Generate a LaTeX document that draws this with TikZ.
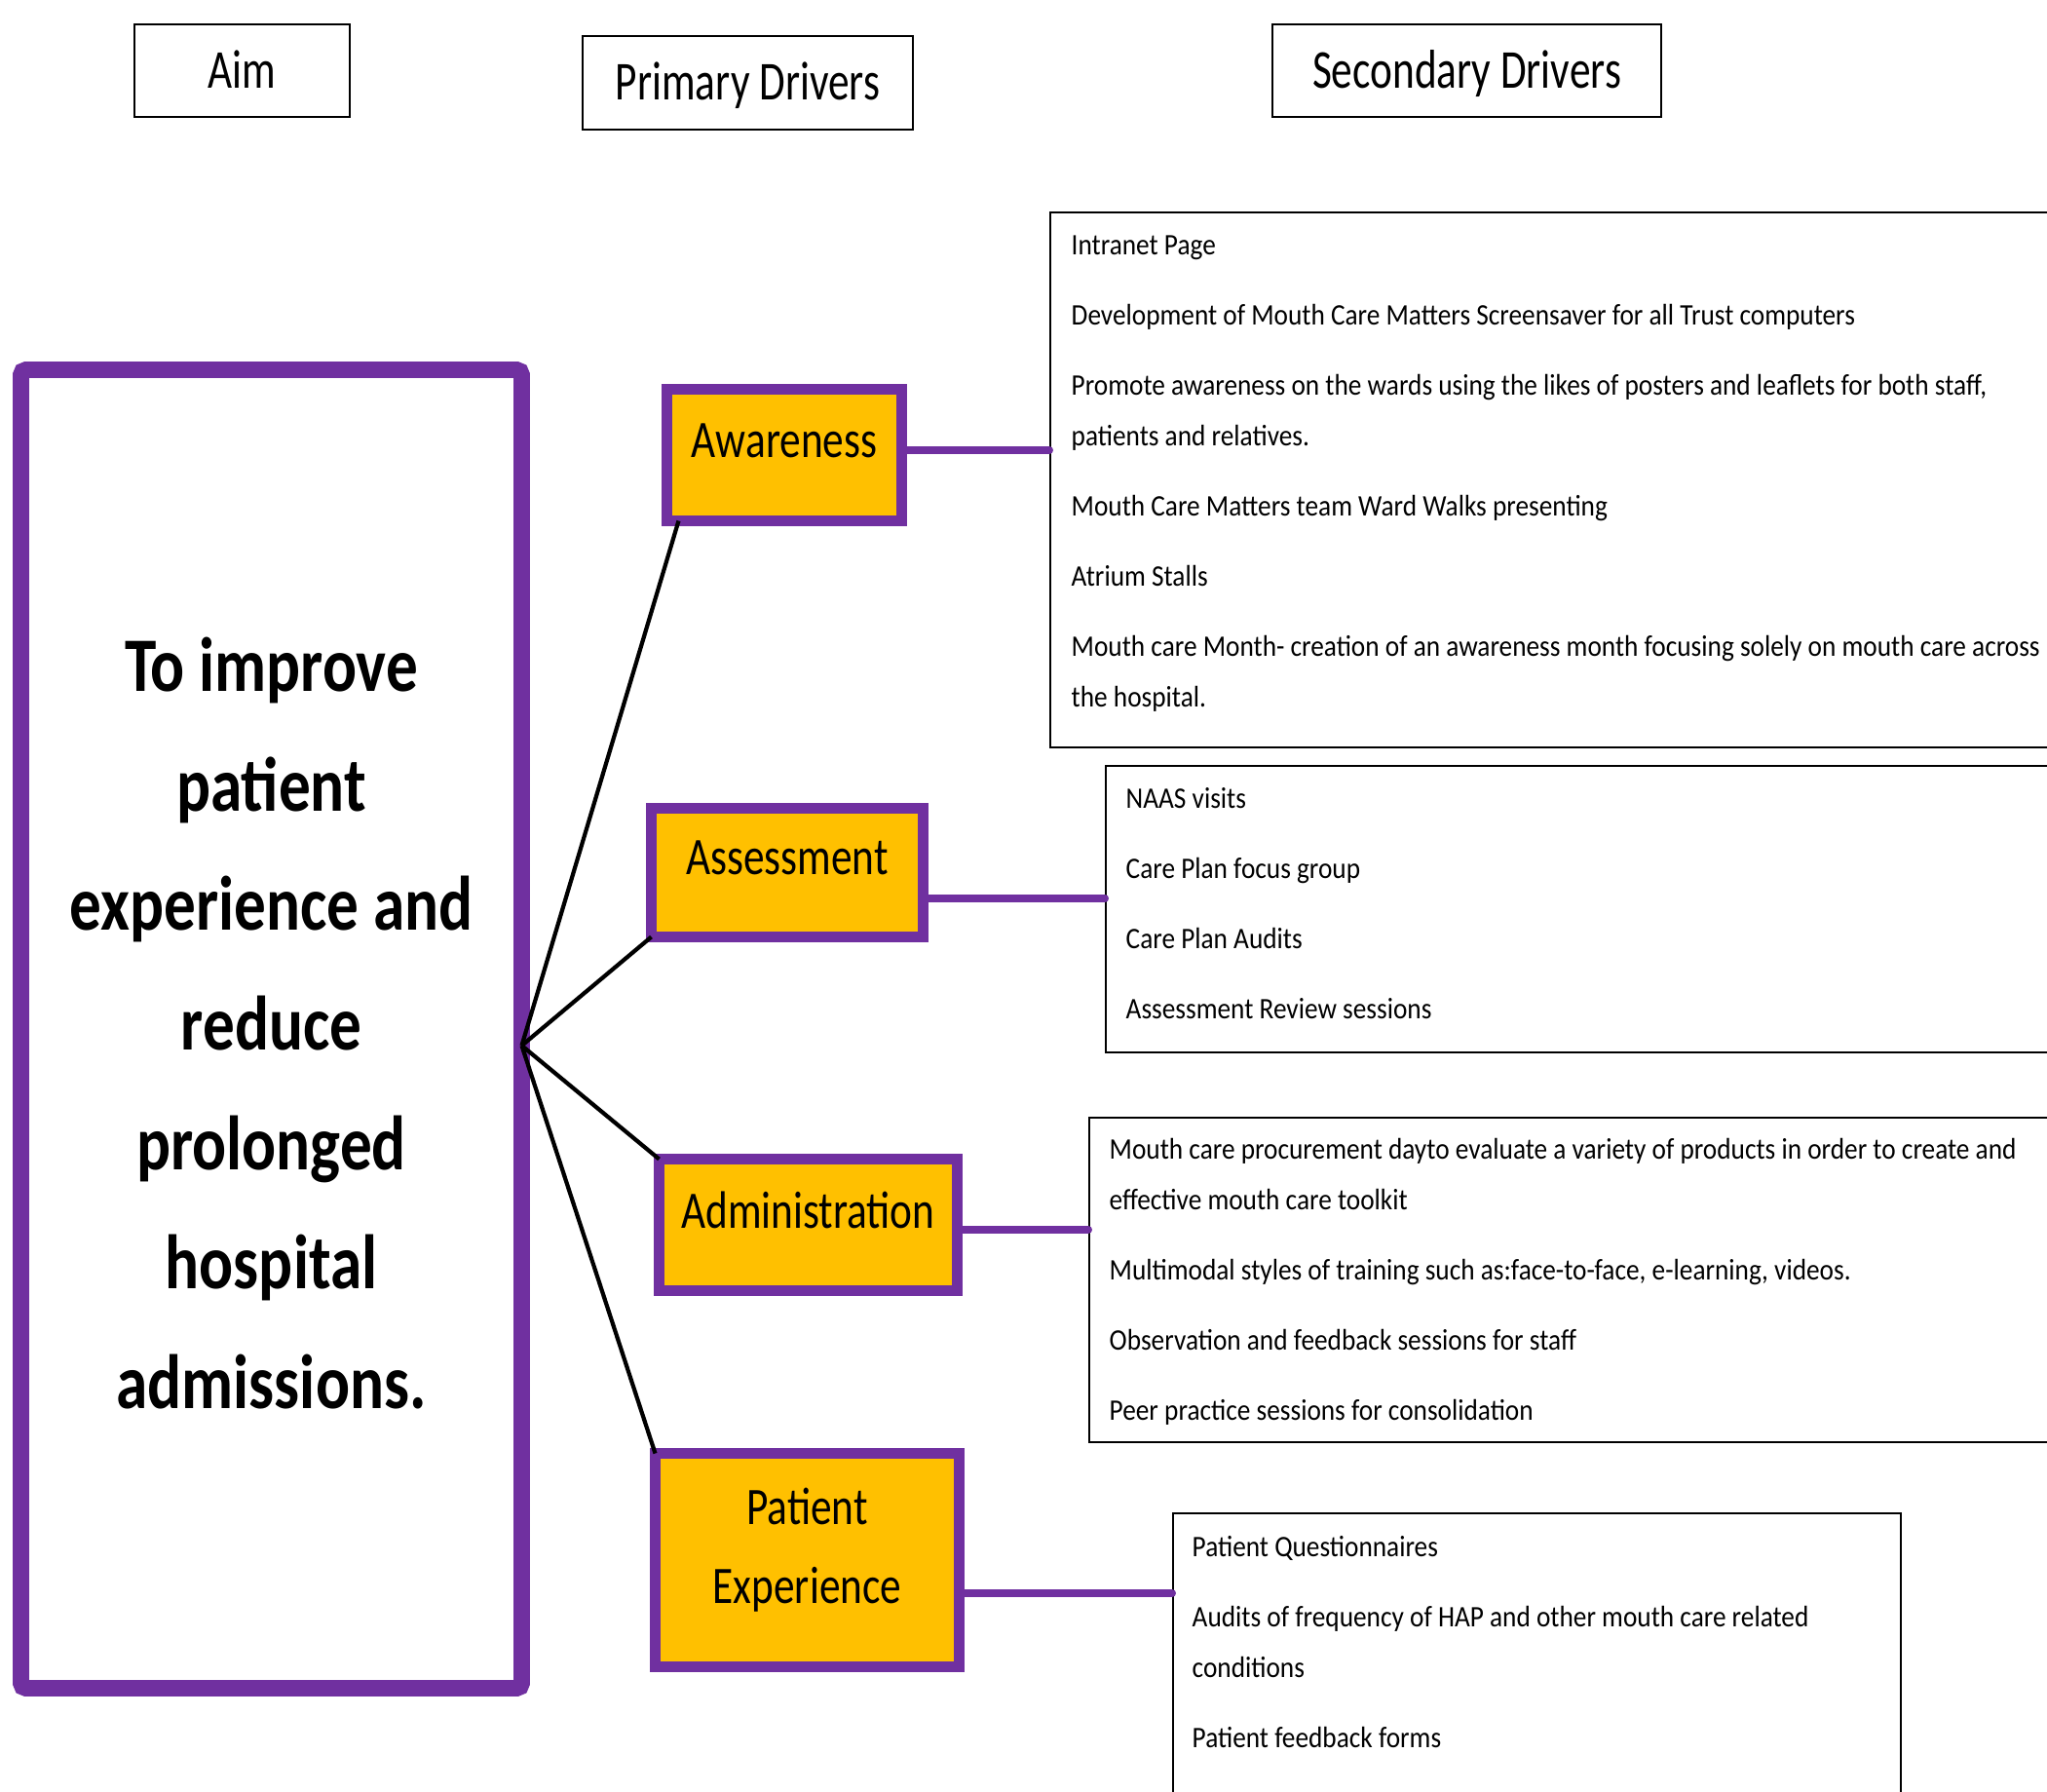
\documentclass[tikz,border=0pt]{standalone}
\usepackage{fontspec}
\setmainfont{Carlito}[FakeStretch=0.8]
\newfontfamily\headfont{Carlito}[FakeStretch=0.77]
\newfontfamily\aimfont{Carlito}[FakeStretch=0.825]
\newfontfamily\bodyfont{Carlito}[FakeStretch=0.893]
\usetikzlibrary{positioning,calc}
\definecolor{drvpurple}{RGB}{112,48,160}
\definecolor{drvorange}{RGB}{255,192,0}
\tikzset{
  head/.style={draw,line width=0.8pt,text depth=1pt,font=\headfont\fontsize{16}{19}\selectfont},
  aimbox/.style={draw=drvpurple,line width=4.8pt,outer sep=0pt,align=center,
    rounded corners=1.5pt,text depth=3.5pt,font=\aimfont\bfseries\fontsize{22.5}{34.9}\selectfont},
  driver/.style={draw=drvpurple,fill=drvorange,line width=3.1pt,outer sep=0pt,
    align=center,text depth=8.5pt,font=\fontsize{15.4}{23}\selectfont},
  secbox/.style={draw,line width=0.7pt,anchor=north west},
  sectext/.style={anchor=north west,inner sep=0pt,align=left,
    font=\bodyfont\fontsize{8.7}{14.8}\selectfont},
  link/.style={drvpurple,line width=2.3pt,line cap=round},
  spoke/.style={line width=1.2pt},
}

\begin{document}
\begin{tikzpicture}
\useasboundingbox (0,0) rectangle (21.01,-18.39);

\node[head,minimum width=2.21cm,minimum height=0.95cm] (haim) at (2.485,-0.725) {Aim};
\node[head,minimum width=3.39cm,minimum height=0.96cm] (hpri) at (7.675,-0.85) {Primary Drivers};
\node[head,minimum width=3.99cm,minimum height=0.95cm] (hsec) at (15.055,-0.725) {Secondary Drivers};

\node[aimbox,minimum width=5.14cm,minimum height=13.53cm] (aim) at (2.785,-10.56)
  {To improve\\patient\\experience and\\reduce\\prolonged\\hospital\\admissions.};

\coordinate (hub) at ([yshift=-0.17cm]aim.east);

\node[driver,minimum width=2.41cm,minimum height=1.35cm] (aw) at (8.05,-4.67) {Awareness};
\node[driver,minimum width=2.79cm,minimum height=1.32cm] (as) at (8.08,-8.955) {Assessment};
\node[driver,minimum width=3.06cm,minimum height=1.35cm] (ad) at (8.295,-12.57) {Administration};
\node[driver,minimum width=3.12cm,minimum height=2.19cm] (pe) at (8.285,-16.01) {Patient\\Experience};

\draw[spoke] (hub) -- ([xshift=0.12cm]aw.south west);
\draw[spoke] (hub) -- (as.south west);
\draw[spoke] (hub) -- (ad.north west);
\draw[spoke] (hub) -- (pe.north west);

\node[secbox,minimum width=10.83cm,minimum height=5.49cm] (s1) at (10.77,-2.17) {};
\node[secbox,minimum width=10.30cm,minimum height=2.94cm] (s2) at (11.34,-7.85) {};
\node[secbox,minimum width=10.50cm,minimum height=3.33cm] (s3) at (11.17,-11.46) {};
\node[secbox,minimum width=7.47cm,minimum height=3.50cm] (s4) at (12.03,-15.52) {};

\node[sectext] (s1t) at ([xshift=0.22cm]s1.north west)
  {\rule{0pt}{0.44cm}Intranet Page\\[5.7pt]
   Development of Mouth Care Matters Screensaver for all Trust computers\\[5.7pt]
   Promote awareness on the wards using the likes of posters and leaflets for both staff,\\
   patients and relatives.\\[5.7pt]
   Mouth Care Matters team Ward Walks presenting\\[5.7pt]
   Atrium Stalls\\[5.7pt]
   Mouth care Month- creation of an awareness month focusing solely on mouth care across\\
   the hospital.};
\node[sectext] (s2t) at ([xshift=0.21cm]s2.north west)
  {\rule{0pt}{0.44cm}NAAS visits\\[5.7pt]
   Care Plan focus group\\[5.7pt]
   Care Plan Audits\\[5.7pt]
   Assessment Review sessions};
\node[sectext] (s3t) at ([xshift=0.21cm]s3.north west)
  {\rule{0pt}{0.43cm}Mouth care procurement dayto evaluate a variety of products in order to create and\\
   effective mouth care toolkit\\[5.7pt]
   Multimodal styles of training such as:face-to-face, e-learning, videos.\\[5.7pt]
   Observation and feedback sessions for staff\\[5.7pt]
   Peer practice sessions for consolidation};
\node[sectext] (s4t) at ([xshift=0.20cm]s4.north west)
  {\rule{0pt}{0.45cm}Patient Questionnaires\\[5.7pt]
   Audits of frequency of HAP and other mouth care related\\
   conditions\\[5.7pt]
   Patient feedback forms};

\draw[link] ([yshift=0.05cm]aw.east) -- ([yshift=0.05cm]aw.east -| s1.west);
\draw[link] ([yshift=-0.265cm]as.east) -- ([yshift=-0.265cm]as.east -| s2.west);
\draw[link] ([yshift=-0.05cm]ad.east) -- ([yshift=-0.05cm]ad.east -| s3.west);
\draw[link] ([yshift=-0.34cm]pe.east) -- ([yshift=-0.34cm]pe.east -| s4.west);
\end{tikzpicture}
\end{document}
